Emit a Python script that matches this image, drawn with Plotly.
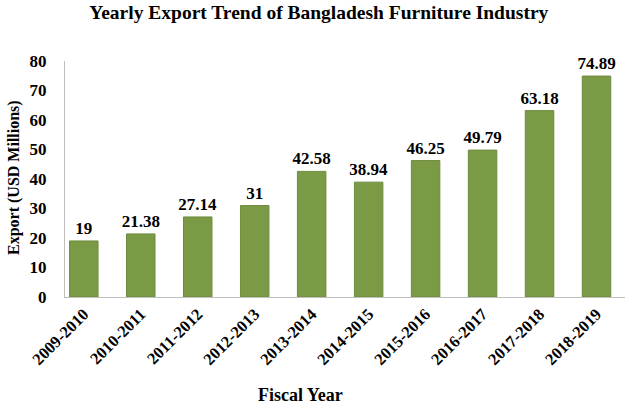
import plotly.graph_objects as go

years = ["2009-2010", "2010-2011", "2011-2012", "2012-2013", "2013-2014",
         "2014-2015", "2015-2016", "2016-2017", "2017-2018", "2018-2019"]
exports = [19, 21.38, 27.14, 31, 42.58, 38.94, 46.25, 49.79, 63.18, 74.89]
labels = ["19", "21.38", "27.14", "31", "42.58", "38.94", "46.25", "49.79", "63.18", "74.89"]

font = "Liberation Serif, Times New Roman, serif"

fig = go.Figure(go.Bar(
    x=years, y=exports, text=labels, textposition="outside",
    constraintext="none",
    textfont=dict(family=font, size=17, color="black", weight="bold"),
    marker=dict(color="#7A9A45", line=dict(color="#6E8B3D", width=1)),
    width=0.5, cliponaxis=False,
))

fig.update_layout(
    width=630, height=411,
    margin=dict(l=65, r=5, t=61, b=114, autoexpand=False),
    paper_bgcolor="white", plot_bgcolor="white",
    showlegend=False,
    title=dict(text="<b>Yearly Export Trend of Bangladesh Furniture Industry</b>",
               x=0.506, xanchor="center", y=0.97, yanchor="middle",
               font=dict(family=font, size=19.5, color="black")),
    font=dict(family=font, color="black"),
    annotations=[
        dict(text="<b>Fiscal Year</b>", x=300, y=411 - 395, xref="paper", yref="paper",
             showarrow=False, font=dict(family=font, size=18, color="black"),
             xanchor="center", yanchor="middle"),
        dict(text="<b>Export (USD Millions)</b>", textangle=-90, x=14, y=411 - 178,
             xref="paper", yref="paper", showarrow=False,
             font=dict(family=font, size=16, color="black"),
             xanchor="center", yanchor="middle"),
    ],
)
# convert pixel positions to paper coordinates
pw, ph = 630 - 65 - 5, 411 - 61 - 114
for a in fig.layout.annotations:
    a.x = (a.x - 65) / pw
    a.y = (a.y - 114) / ph

fig.update_xaxes(
    range=[-0.33, 9.5], showline=True, linecolor="#BFBFBF", linewidth=1,
    tickangle=-45, tickfont=dict(family=font, size=16.5, color="black", weight="bold"),
    showgrid=False, ticks="", automargin=False,
)
fig.update_yaxes(
    range=[0, 80], dtick=10, showline=True, linecolor="#BFBFBF", linewidth=1,
    showgrid=False, zeroline=False, ticks="", ticklabelstandoff=14, automargin=False,
    tickfont=dict(family=font, size=17, color="black", weight="bold"),
)

fig.write_html("out.html", config={"displayModeBar": False},
               post_script="document.body.style.margin='0';document.body.style.padding='0';")
